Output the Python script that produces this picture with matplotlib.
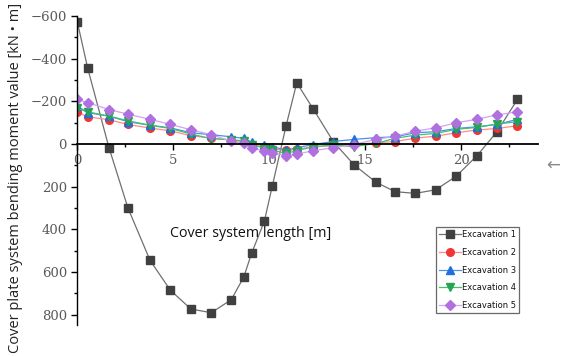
import matplotlib
matplotlib.use("Agg")
import matplotlib.pyplot as plt
from matplotlib.ticker import MultipleLocator

x = [0, 0.54, 1.65, 2.64, 3.79, 4.85, 5.92, 6.98, 8.02, 8.67, 9.08, 9.74, 10.16,
     10.87, 11.43, 12.29, 13.33, 14.41, 15.54, 16.55, 17.61, 18.67, 19.74, 20.8, 21.86, 22.92]

exc1 = [-573, -356, 17, 300, 545, 685, 773, 790, 729, 623, 511, 362, 195,
        -84, -287, -164, -12, 97, 178, 223, 231, 214, 150, 56, -58, -209]
exc2 = [-150, -128, -114, -92, -75, -62, -39, -28, -19, -11, 2, 12, 22,
        30, 25, 12, 8, 1, -6, -12, -28, -37, -53, -66, -73, -86]
exc3 = [-178, -147, -131, -105, -88, -76, -53, -44, -34, -27, -9, 6, 12,
        28, 17, 2, -12, -22, -30, -34, -53, -58, -73, -81, -92, -116]
exc4 = [-167, -151, -131, -109, -88, -73, -47, -25, -20, -15, 3, 19, 28,
        44, 31, 12, 5, 12, -3, -27, -42, -50, -69, -78, -94, -105]
exc5 = [-209, -194, -162, -140, -116, -92, -67, -44, -13, -3, 19, 31, 41,
        55, 47, 31, 17, 2, -22, -36, -61, -76, -100, -116, -137, -151]

labels = ["Excavation 1", "Excavation 2", "Excavation 3", "Excavation 4", "Excavation 5"]
series = [exc1, exc2, exc3, exc4, exc5]
markers = ["s", "o", "^", "v", "D"]
mcolors = ["#404040", "#f03535", "#1f6fe0", "#26a454", "#b070e0"]
lcolors = ["#707070", "#ff8a8a", "#4a90ee", "#40c070", "#d0a4f0"]
msizes = [5.5, 5.5, 5.5, 5.5, 5.5]

fig = plt.figure(figsize=(5.61, 3.56), dpi=100)
ax = fig.add_axes([0.1378, 0.0857, 0.8214, 0.8693])

for s, lab, m, mc, lc, ms in zip(series, labels, markers, mcolors, lcolors, msizes):
    ax.plot(x, s, color=lc, lw=0.9, marker=m, markersize=ms,
            markerfacecolor=mc, markeredgecolor=mc, label=lab)

ax.set_xlim(0, 24)
ax.set_ylim(850, -600)
ax.spines["top"].set_visible(False)
ax.spines["right"].set_visible(False)
ax.spines["bottom"].set_position(("data", 0))
ax.spines["bottom"].set_linewidth(1.3)
ax.spines["left"].set_linewidth(1.0)
ax.set_xticks([0, 5, 10, 15, 20])
ax.xaxis.set_minor_locator(MultipleLocator(2.5))
ax.set_yticks([-600, -400, -200, 0, 200, 400, 600, 800])
ax.yaxis.set_minor_locator(MultipleLocator(100))
ax.tick_params(axis="both", which="major", direction="out", length=4, width=1,
               labelsize=9.5, labelcolor="#5a5a5a")
ax.tick_params(axis="both", which="minor", direction="out", length=2, width=1)
for t in ax.get_xticklabels() + ax.get_yticklabels():
    t.set_family("DejaVu Serif")

fig.text(0.028, 0.5, "Cover plate system bending moment value [kN \u2022 m]",
         rotation=90, ha="center", va="center", fontsize=10.5,
         family="Open Sans", color="#222222")
fig.text(0.447, 0.343, "Cover system length [m]", ha="center", va="center",
         fontsize=10.3, family="Open Sans", color="#111111")
fig.text(0.986, 0.534, "\u2190", ha="center", va="center", fontsize=12,
         color="#888888")

leg = ax.legend(loc="upper left", bbox_to_anchor=(0.7767, 0.3632),
                bbox_transform=fig.transFigure, fontsize=6.0, frameon=True,
                fancybox=False, edgecolor="#444444", handlelength=2.6,
                handletextpad=0.1, borderpad=0.4, labelspacing=1.05,
                borderaxespad=0)
leg.get_frame().set_linewidth(0.9)
for t in leg.get_texts():
    t.set_family("Liberation Sans Narrow")
    t.set_color("#111111")

fig.savefig("out.png", dpi=100)
